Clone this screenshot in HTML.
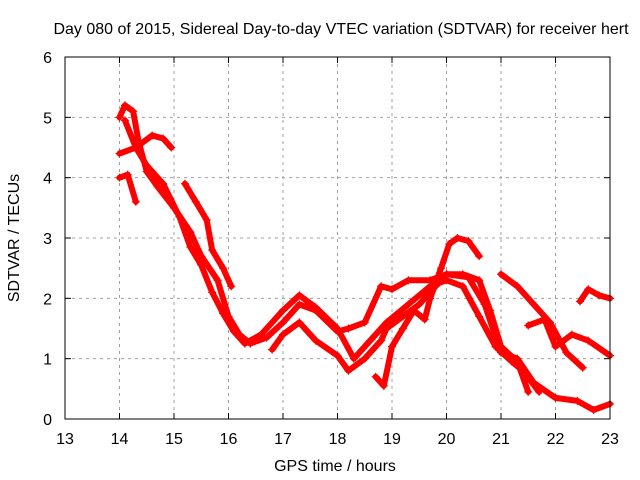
<!DOCTYPE html>
<html><head><meta charset="utf-8"><style>
body{margin:0;background:#fff;}
svg{display:block;font-family:"Liberation Sans",sans-serif;}
</style></head><body>
<svg id="chart" width="640" height="480">
<text x="341" y="34" font-size="16" text-anchor="middle">Day 080 of 2015, Sidereal Day-to-day VTEC variation (SDTVAR) for receiver hert</text>
<text x="335" y="471" font-size="16" text-anchor="middle">GPS time / hours</text>
<text transform="translate(19,238) rotate(-90)" font-size="16" text-anchor="middle">SDTVAR / TECUs</text>
<g id="grid"></g><g id="ticks"></g><g id="series"></g>
<rect x="65" y="57" width="545" height="362" fill="none" stroke="#000" stroke-width="1"/>
</svg>
<script>
const xTicks=[13,14,15,16,17,18,19,20,21,22,23];
const yTicks=[0,1,2,3,4,5,6];
const s1=[[14.0,5.0],[14.1,5.2],[14.25,5.1],[14.35,4.6],[14.5,4.1],[14.7,3.85],[15.0,3.5],[15.3,3.1],[15.5,2.7],[15.8,2.3],[16.0,1.7],[16.2,1.4],[16.4,1.25],[16.7,1.35],[17.0,1.6],[17.3,1.9],[17.6,1.8],[18.0,1.45],[18.2,1.5],[18.5,1.6],[18.8,2.2],[19.0,2.15],[19.3,2.3],[19.7,2.3],[20.0,2.4],[20.4,2.35],[20.7,1.9],[21.0,1.1],[21.3,1.0],[21.6,0.6],[22.0,0.35],[22.4,0.3],[22.7,0.15],[23.0,0.25]];
const s2=[[14.0,4.4],[14.3,4.5],[14.6,4.7],[14.8,4.65],[14.95,4.5]];
const s3=[[14.0,4.0],[14.15,4.05],[14.3,3.6]];
const s4=[[14.1,4.95],[14.3,4.5],[14.5,4.2],[14.8,3.9],[15.1,3.35],[15.3,2.85],[15.5,2.55],[15.7,2.1],[15.9,1.75],[16.1,1.45],[16.3,1.25],[16.6,1.4],[17.0,1.8],[17.3,2.05],[17.6,1.85],[18.0,1.5],[18.3,1.0],[18.6,1.3],[18.9,1.6],[19.3,1.9],[19.7,2.2],[20.0,2.3],[20.3,2.2],[20.6,1.7],[20.9,1.2],[21.2,0.95],[21.4,0.8],[21.7,0.45]];
const s5=[[15.2,3.9],[15.4,3.6],[15.6,3.3],[15.7,2.8],[15.9,2.5],[16.05,2.2]];
const s6=[[16.8,1.15],[17.0,1.4],[17.3,1.6],[17.6,1.3],[18.0,1.05],[18.2,0.8],[18.5,1.0],[18.8,1.3],[18.9,1.5],[19.2,1.7],[19.5,1.9],[19.8,2.2],[20.0,2.4],[20.3,2.4],[20.6,2.3],[20.8,1.8],[21.0,1.2],[21.3,0.95],[21.5,0.45]];
const s7=[[18.7,0.7],[18.85,0.55],[19.0,1.2],[19.2,1.5],[19.4,1.8],[19.6,1.65],[19.7,2.0],[19.9,2.5],[20.05,2.9],[20.2,3.0],[20.4,2.95],[20.6,2.7]];
const s8=[[21.0,2.4],[21.3,2.2],[21.6,1.9],[21.9,1.6],[22.2,1.1],[22.5,0.85]];
const s9=[[21.5,1.55],[21.8,1.65],[22.0,1.2],[22.3,1.4],[22.6,1.3],[23.0,1.05]];
const s10=[[22.45,1.95],[22.6,2.15],[22.8,2.05],[23.0,2.0]];
const allSeries=[s1,s2,s3,s4,s5,s6,s7,s8,s9,s10];
const NS="http://www.w3.org/2000/svg";
const X=v=>65+(v-13)*54.5, Y=v=>419-v*60.33;
const grid=document.getElementById('grid'),ticks=document.getElementById('ticks'),ser=document.getElementById('series');
function mk(t,a,p){const e=document.createElementNS(NS,t);for(const k in a)e.setAttribute(k,a[k]);p.appendChild(e);return e;}
xTicks.forEach(v=>{const x=X(v);
 if(v>13&&v<23){const g=mk('line',{x1:x,x2:x,y1:57,y2:419,stroke:'#a0a0a0','stroke-dasharray':'3,4'},grid);
 
 }
 mk('line',{x1:x,x2:x,y1:419,y2:413,stroke:'#000'},ticks);mk('line',{x1:x,x2:x,y1:57,y2:63,stroke:'#000'},ticks);
 const t=mk('text',{x:x,y:444,'font-size':16,'text-anchor':'middle'},ticks);t.textContent=v;
 
 });
yTicks.forEach(v=>{const y=Y(v);
 if(v>0&&v<6){const g=mk('line',{x1:65,x2:610,y1:y,y2:y,stroke:'#a0a0a0','stroke-dasharray':'3,4'},grid);
 
 }
 mk('line',{x1:65,x2:71,y1:y,y2:y,stroke:'#000'},ticks);mk('line',{x1:610,x2:604,y1:y,y2:y,stroke:'#000'},ticks);
 const t=mk('text',{x:52,y:y+6,'font-size':16,'text-anchor':'end'},ticks);t.textContent=v;
 
 });
allSeries.forEach((s,i)=>{
 const g=mk('g',{},ser);
 
 
 mk('polyline',{points:s.map(p=>X(p[0])+','+Y(p[1])).join(' '),fill:'none',stroke:'#f00','stroke-width':6,'stroke-linejoin':'round','stroke-linecap':'round'},g);
 s.forEach(p=>{const x=X(p[0]),y=Y(p[1]);
  const m=mk('path',{d:`M${x-4},${y}H${x+4}M${x},${y-4}V${y+4}`,stroke:'#f00','stroke-width':1.2},g);
  
  });
});
</script>
</body></html>
